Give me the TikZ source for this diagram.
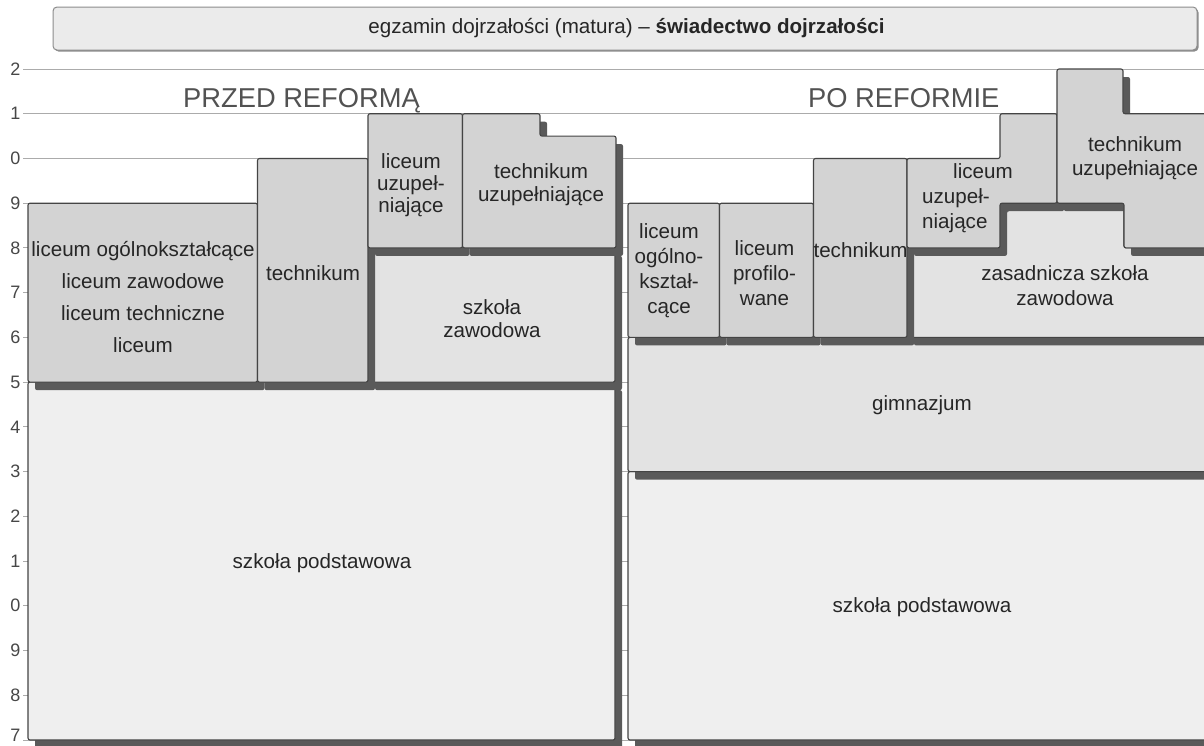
\documentclass[tikz,border=0pt]{standalone}
\usepackage{fontspec}
\setmainfont{Liberation Sans}
\definecolor{cPale}{HTML}{EFEFEF}
\definecolor{cLight}{HTML}{E3E3E3}
\definecolor{cMid}{HTML}{D3D3D3}
\definecolor{cShadow}{HTML}{5A5A5A}
\definecolor{cBorder}{HTML}{444444}
\definecolor{cGrid}{HTML}{ABABAB}
\definecolor{cText}{HTML}{262626}
\definecolor{cTitleFill}{HTML}{EBEBEB}
\newcommand\plate[2]{%
  \fill[cShadow,rounded corners=2pt,shift={(7,8)}] #2 -- cycle;
  \filldraw[#1] #2 -- cycle;}
\begin{document}
\begin{tikzpicture}[x=1pt,y=-1pt,
  pale/.style={fill=cPale,draw=cBorder,line width=1.1pt,rounded corners=2pt},
  light/.style={fill=cLight,draw=cBorder,line width=1.1pt,rounded corners=2pt},
  mid/.style={fill=cMid,draw=cBorder,line width=1.1pt,rounded corners=2pt},
  gridline/.style={draw=cGrid,line width=1pt},
  axislab/.style={text=cText!85,font=\fontsize{18}{20}\selectfont,inner sep=0pt,anchor=east},
  lbl/.style={text=cText,inner sep=0pt,align=center,font=\fontsize{20.6}{24}\selectfont},
  head/.style={text=black!68,inner sep=0pt,anchor=base west,font=\fontsize{27.3}{30}\selectfont}]
\useasboundingbox (0,0) rectangle (1204,745);
\clip (0,0) rectangle (1204,745);
\fill[white] (0,0) rectangle (1204,745);

% title bar
\fill[black!45,rounded corners=4pt] (54.5,8.5) rectangle (1198.5,51.5);
\filldraw[fill=cTitleFill,draw=black!45,line width=1pt,rounded corners=4pt] (53,7) rectangle (1197,50);
\node[lbl,font=\fontsize{20.6}{24}\selectfont] (title) at (626.5,28.5) {egzamin dojrzałości (matura) – \textbf{świadectwo dojrzałości}};

% axis and grid
\foreach \lab [count=\i from 0] in {2,1,0,9,8,7,6,5,4,3,2,1,0,9,8} {
  \draw[gridline] (23,{69+44.73*\i}) -- (1204,{69+44.73*\i});
  \node[axislab] (ax\i) at (20.5,{69+44.73*\i}) {\lab};
}
\draw[gridline] (23,740) -- (1204,740);
\node[axislab] (ax15) at (20.5,735.5) {7};

% ---------------- left panel: przed reforma
\plate{pale}{(28,382.1) -- (615,382.1) -- (615,740) -- (28,740)}
\plate{light}{(368,247.9) -- (615,247.9) -- (615,382.1) -- (368,382.1)}
\plate{mid}{(28,203.2) -- (257.5,203.2) -- (257.5,382.1) -- (28,382.1)}
\plate{mid}{(257.5,158.5) -- (368,158.5) -- (368,382.1) -- (257.5,382.1)}
\plate{mid}{(368,113.7) -- (462.5,113.7) -- (462.5,247.9) -- (368,247.9)}
\plate{mid}{(462.5,113.7) -- (540,113.7) -- (540,136.1) -- (616,136.1) -- (616,247.9) -- (462.5,247.9)}

\node[head] (przed) at (183,107) {PRZED REFORMĄ};
\node[lbl,font=\fontsize{20.6}{31.7}\selectfont] (licL) at (143,297) {liceum ogólnokształcące\\liceum zawodowe\\liceum techniczne\\liceum};
\node[lbl] (techL) at (313,273) {technikum};
\node[lbl,font=\fontsize{20.6}{21.8}\selectfont] (luL) at (411,185) {liceum\\uzupeł-\\niające};
\node[lbl,font=\fontsize{20.6}{22.5}\selectfont] (tuL) at (541,184.5) {technikum\\uzupełniające};
\node[lbl,font=\fontsize{20.6}{23.5}\selectfont] (szL) at (492,318.5) {szkoła\\zawodowa};
\node[lbl] (spL) at (322,563) {szkoła podstawowa};

% ---------------- right panel: po reformie
\plate{pale}{(628,471.6) -- (1215,471.6) -- (1215,740) -- (628,740)}
\plate{light}{(628,337.4) -- (1215,337.4) -- (1215,471.6) -- (628,471.6)}
\plate{light}{(907,247.9) -- (1000,247.9) -- (1000,203.2) -- (1124,203.2) -- (1124,247.9) -- (1215,247.9) -- (1215,337.4) -- (907,337.4)}
\plate{mid}{(628,203.2) -- (719.5,203.2) -- (719.5,337.4) -- (628,337.4)}
\plate{mid}{(719.5,203.2) -- (813.5,203.2) -- (813.5,337.4) -- (719.5,337.4)}
\plate{mid}{(813.5,158.5) -- (907,158.5) -- (907,337.4) -- (813.5,337.4)}
\plate{mid}{(907,158.5) -- (1000,158.5) -- (1000,113.7) -- (1057,113.7) -- (1057,203.2) -- (1000,203.2) -- (1000,247.9) -- (907,247.9)}
\plate{mid}{(1057,69) -- (1123,69) -- (1123,113.7) -- (1215,113.7) -- (1215,247.9) -- (1124,247.9) -- (1124,203.2) -- (1057,203.2)}

\node[head] (po) at (808,107) {PO REFORMIE};
\node[lbl,font=\fontsize{20.6}{25}\selectfont] (loR) at (669,271) {liceum\\ogólno-\\kształ-\\cące};
\node[lbl,font=\fontsize{20.6}{25}\selectfont] (lpR) at (764.5,273.5) {liceum\\profilo-\\wane};
\node[lbl] (techR) at (860.5,250) {technikum};
\node[lbl,font=\fontsize{20.6}{25}\selectfont] (zszR) at (1065,286) {zasadnicza szkoła\\zawodowa};
\node[lbl] (gimR) at (922,405) {gimnazjum};
\node[lbl] (spR) at (922,607) {szkoła podstawowa};
\node[lbl,anchor=west,align=left,font=\fontsize{20.6}{25}\selectfont] (luR) at (922,198.5) {\hspace*{31pt}liceum\\uzupeł-\\niające};
\node[lbl,font=\fontsize{20.6}{24}\selectfont] (tuR) at (1135,158.5) {technikum\\uzupełniające};
\end{tikzpicture}
\end{document}
